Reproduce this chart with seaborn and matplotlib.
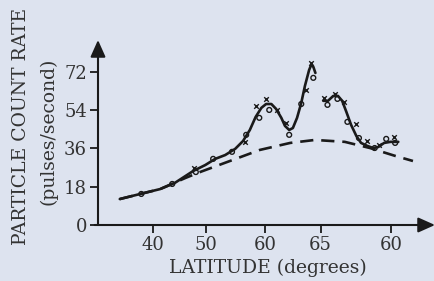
import numpy as np
import pandas as pd
import matplotlib
matplotlib.use("Agg")
import matplotlib.pyplot as plt
import seaborn as sns

# tick positions on the drawn axis and the labels printed under them
x_tick_pos = [40, 50, 61.3, 71.9, 85.4]
x_tick_labels = ["40", "50", "60", "65", "60"]
y_ticks = [0, 18, 36, 54, 72]

# smooth fitted curve, first part (up to the tall peak)
fit1_x = [33.6, 37.5, 41.3, 44.1, 47.6, 49.9, 51.8, 53.7, 55.6, 57.1, 58.4, 59.5,
          60.6, 61.5, 62.5, 63.4, 64.4, 65.1, 65.9, 66.6, 67.4, 68.2, 68.9, 69.7,
          70.1, 70.5, 70.9]
fit1_y = [12.2, 14.6, 16.9, 19.8, 25.4, 28.2, 31.1, 32.9, 35.8, 39.5, 44.7, 50.8,
          55.1, 56.9, 56.9, 54.6, 50.4, 46.6, 44.7, 45.6, 50.4, 57.4, 65.4, 72.9,
          75.3, 74.4, 71.5]
# fitted curve, second part
fit2_x = [72.4, 73.3, 74.3, 75.2, 76.0, 76.8, 77.7, 78.7, 79.6, 80.8, 81.9, 82.9,
          84.0, 85.2, 86.7]
fit2_y = [58.4, 58.4, 60.7, 60.7, 58.4, 53.2, 47.1, 41.9, 38.6, 37.2, 36.2, 36.7,
          38.6, 39.1, 39.1]
# dashed background curve
base_x = [33.6, 41.3, 46.1, 48.9, 54.6, 60.3, 66.1, 70.8, 76.5, 81.3, 86.1, 89.5]
base_y = [12.2, 16.9, 22.1, 24.9, 30.1, 35.3, 38.6, 40.0, 39.1, 36.2, 32.5, 30.1]

# measured points: circles
circ_x = [37.7, 43.6, 48.1, 51.4, 55.0, 57.7, 60.2, 62.1, 65.9, 68.2, 70.5, 73.2,
          75.1, 77.0, 79.2, 82.2, 84.4, 86.1]
circ_y = [14.6, 19.3, 24.9, 31.1, 34.4, 42.4, 50.4, 54.1, 42.4, 56.9, 69.2, 56.5,
          59.3, 48.5, 40.9, 36.2, 40.5, 38.6]
# measured points: crosses
cross_x = [47.8, 57.5, 59.6, 61.5, 63.6, 65.3, 69.1, 70.1, 72.6, 74.7, 76.4, 78.7,
           80.8, 83.0, 85.9]
cross_y = [26.8, 39.1, 56.0, 59.3, 54.1, 47.9, 63.5, 76.2, 59.8, 61.6, 57.9, 47.5,
           39.5, 37.6, 41.4]

bg = "#dde3ef"
ink = "#1a1a1a"
sns.set_theme(style="white")
plt.rcParams["font.family"] = ["DejaVu Serif"]

fig = plt.figure(figsize=(4.35, 2.81), dpi=100, facecolor=bg)
ax = fig.add_axes([98 / 435, 56 / 281, 337 / 435, 185 / 281])
ax.set_facecolor(bg)

sns.lineplot(x=fit1_x, y=fit1_y, sort=False, color=ink, lw=1.9, ax=ax)
sns.lineplot(x=fit2_x, y=fit2_y, sort=False, color=ink, lw=1.9, ax=ax)
sns.lineplot(x=base_x, y=base_y, sort=False, color=ink, lw=1.9, ax=ax)
ax.lines[-1].set_dashes([5, 3])

sns.scatterplot(x=circ_x, y=circ_y, marker="o", s=12, facecolor="none",
                edgecolor=ink, linewidth=1.0, ax=ax, zorder=3)
sns.scatterplot(x=cross_x, y=cross_y, marker="x", s=11, color=ink,
                linewidth=1.0, ax=ax, zorder=3)

ax.set_xlim(29.45, 93.7)
ax.set_ylim(0, 87)
for s in ax.spines.values():
    s.set_visible(False)

# axes with arrow heads
head = "-|>,head_length=0.85,head_width=0.38"
ax.annotate("", xy=(1, 0), xytext=(-0.01, 0), xycoords="axes fraction",
            arrowprops=dict(arrowstyle=head, color=ink, lw=1.5, shrinkA=0, shrinkB=0))
ax.annotate("", xy=(0, 1), xytext=(0, 0), xycoords="axes fraction",
            arrowprops=dict(arrowstyle=head, color=ink, lw=1.5, shrinkA=0, shrinkB=0))

ax.set_xticks(x_tick_pos)
ax.set_xticklabels(x_tick_labels)
ax.set_yticks(y_ticks)
ax.tick_params(axis="both", direction="out", length=6, width=1.3, color=ink,
               labelsize=13, labelcolor="#333333", pad=2, bottom=True, left=True)

fig.text(268 / 435, 1 - 268 / 281, "LATITUDE (degrees)", ha="center", va="center",
         fontsize=13.5, color="#333333")
fig.text(21 / 435, 1 - 126 / 281, "PARTICLE COUNT RATE", ha="center", va="center",
         rotation=90, fontsize=13.5, color="#333333")
fig.text(48 / 435, 1 - 131 / 281, "(pulses/second)", ha="center", va="center",
         rotation=90, fontsize=13.5, color="#333333")

fig.savefig("out.png", dpi=100, facecolor=bg)
